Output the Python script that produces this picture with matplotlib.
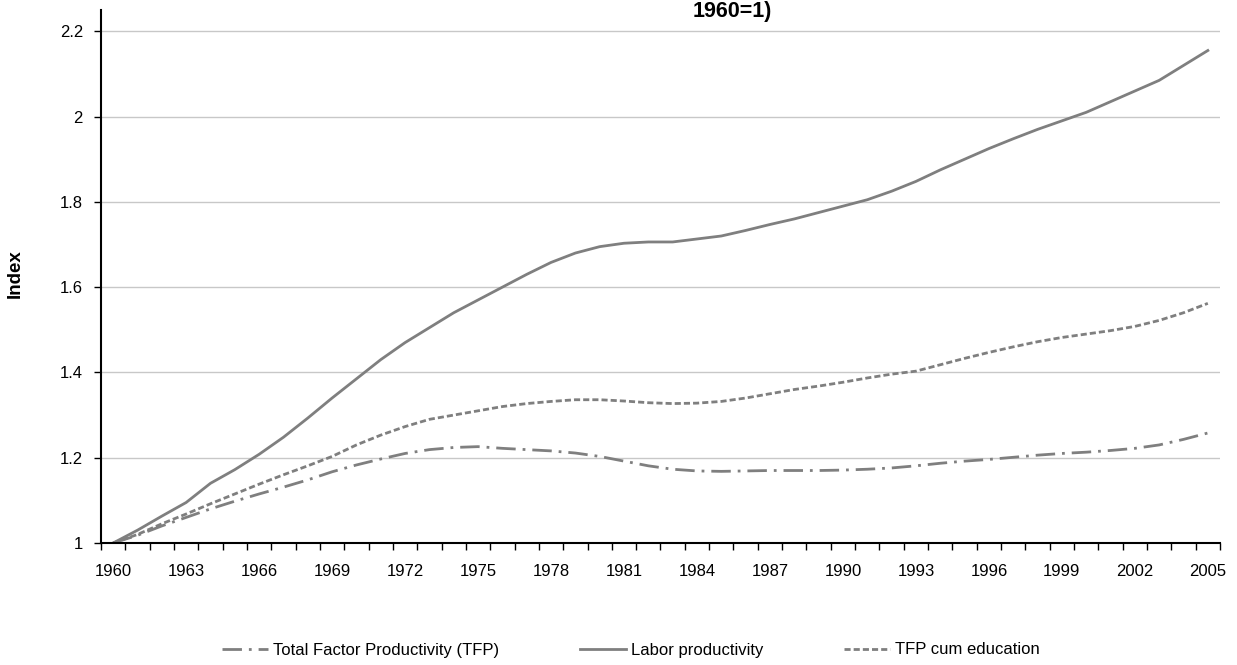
#!/usr/bin/env python3
# -*- coding: utf-8 -*-

"""Productivity index chart (1960=1): TFP, labor productivity, TFP cum education."""
from __future__ import annotations
import matplotlib
matplotlib.use("Agg")
import matplotlib.pyplot as plt
from matplotlib.ticker import FixedLocator

years = list(range(1960, 2006))

tfp = [
    1.000, 1.018, 1.040, 1.060, 1.080, 1.098, 1.115, 1.131, 1.148, 1.167,
    1.183, 1.197, 1.210, 1.219, 1.224, 1.226, 1.222, 1.219, 1.216, 1.211,
    1.203, 1.192, 1.181, 1.173, 1.169, 1.168, 1.169, 1.170, 1.170, 1.170,
    1.171, 1.173, 1.176, 1.181, 1.187, 1.192, 1.196, 1.201, 1.206, 1.210,
    1.213, 1.217, 1.222, 1.230, 1.243, 1.258,
]
labor_productivity = [
    1.000, 1.030, 1.063, 1.095, 1.140, 1.172, 1.208, 1.248, 1.293, 1.340,
    1.385, 1.430, 1.470, 1.505, 1.540, 1.570, 1.600, 1.630, 1.658, 1.680,
    1.695, 1.703, 1.706, 1.706, 1.713, 1.720, 1.733, 1.747, 1.760, 1.775,
    1.790, 1.805, 1.825, 1.848, 1.875, 1.900, 1.925, 1.948, 1.970, 1.990,
    2.010, 2.035, 2.060, 2.085, 2.120, 2.155,
]
tfp_cum_education = [
    1.000, 1.020, 1.045, 1.068, 1.092, 1.115, 1.138, 1.160, 1.181, 1.203,
    1.230, 1.253, 1.273, 1.290, 1.300, 1.310, 1.320, 1.327, 1.332, 1.336,
    1.336, 1.333, 1.329, 1.327, 1.328, 1.332, 1.340, 1.350, 1.360, 1.368,
    1.377, 1.387, 1.396, 1.403, 1.418, 1.433, 1.447, 1.460, 1.472, 1.482,
    1.490, 1.498, 1.508, 1.522, 1.540, 1.562,
]
label_years = list(range(1960, 2006, 3))
y_ticks = [1, 1.2, 1.4, 1.6, 1.8, 2, 2.2]

LINE_COLOR = "#7f7f7f"


def plot_productivity() -> None:
    plt.rcParams["font.family"] = ["Liberation Sans", "DejaVu Sans"]
    fig = plt.figure(figsize=(12.37, 6.65), dpi=100)
    ax = fig.add_axes([101 / 1237, 1 - 543 / 665, (1220 - 101) / 1237, (543 - 10) / 665])

    ax.plot(years, tfp, color=LINE_COLOR, lw=2.0, dashes=(7, 2.5, 1, 2.5),
            label="Total Factor Productivity (TFP)")
    ax.plot(years, labor_productivity, color=LINE_COLOR, lw=2.0,
            label="Labor productivity")
    ax.plot(years, tfp_cum_education, color=LINE_COLOR, lw=2.0, dashes=(2.2, 1.1),
            label="TFP cum education")

    ax.set_xlim(1959.5, 2005.5)
    ax.set_ylim(1, 2.25)
    ax.set_yticks(y_ticks)
    ax.set_yticklabels([f"{v:g}" for v in y_ticks])
    ax.set_xticks(label_years)
    ax.xaxis.set_minor_locator(FixedLocator([y - 0.5 for y in years] + [2005.5]))
    ax.tick_params(axis="x", which="major", length=0, pad=15, labelsize=12)
    ax.tick_params(axis="x", which="minor", length=5, width=1, direction="out")
    ax.tick_params(axis="y", which="major", length=5, width=1, direction="out",
                   pad=8, labelsize=12)

    ax.grid(axis="y", color="#c8c8c8", lw=1)
    ax.set_axisbelow(True)
    for side in ("top", "right"):
        ax.spines[side].set_visible(False)
    for side in ("left", "bottom"):
        ax.spines[side].set_linewidth(1.5)
        ax.spines[side].set_color("black")

    fig.text(15 / 1237, 1 - 274 / 665, "Index", rotation=90, ha="center",
             va="center", fontsize=13.5, fontweight="bold")
    # only the tail of the title is visible in the source at the top edge
    fig.text(732 / 1237, 1 - 16.5 / 665, "1960=1)", ha="center", va="baseline",
             fontsize=15.5, fontweight="bold")

    fig.legend(loc="center", bbox_to_anchor=(0.51, 1 - 650 / 665), ncol=3,
               frameon=False, fontsize=12, handlelength=2.76,
               handletextpad=0.3, columnspacing=4.85)

    fig.savefig("out.png", dpi=100)


def main():
    plot_productivity()


if __name__ == "__main__":
    main()
